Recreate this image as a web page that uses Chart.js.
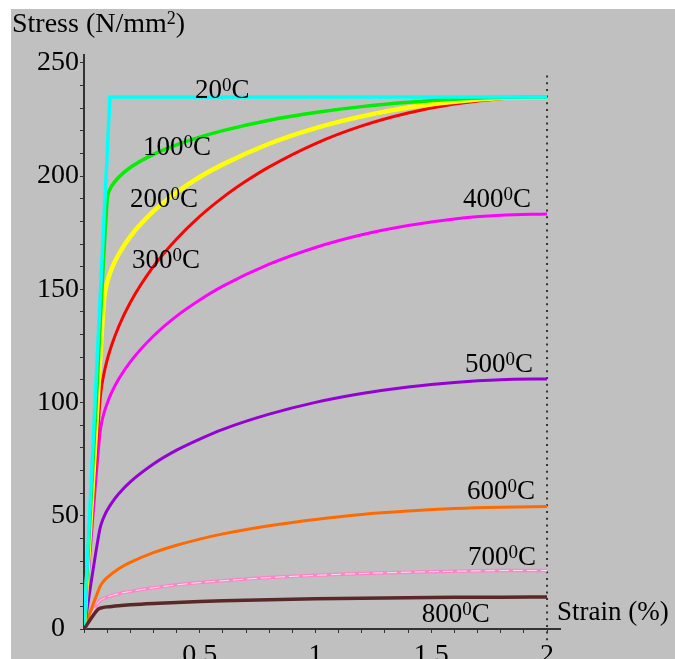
<!DOCTYPE html>
<html>
<head>
<meta charset="utf-8">
<script src="https://cdn.jsdelivr.net/npm/chart.js@4.4.0/dist/chart.umd.min.js"></script>
<style>
  html, body { margin: 0; padding: 0; overflow: hidden; background: #fff; width: 675px; height: 659px; }
  #wrap { position: absolute; left: 0; top: 0; width: 675px; height: 700px; }
</style>
</head>
<body>
<div id="wrap"><canvas id="c" width="675" height="700"></canvas></div>
<script>
// Steel stress-strain curves at elevated temperature (strain in %, stress in N/mm2)
const temps = ['20', '100', '200', '300', '400', '500', '600', '700', '800'];

const strain20 = [0, 0.112, 2.0];
const stress20 = [0, 235, 235];

const strain100 = [0, 0.05, 0.1003, 0.102, 0.105, 0.11, 0.12, 0.15, 0.2, 0.3, 0.4, 0.5, 0.6, 0.8, 1.0, 1.2, 1.4, 1.6, 1.8, 2.0];
const stress100 = [0, 94.5, 189.6, 191.1, 192.3, 193.7, 195.7, 199.5, 203.8, 209.6, 213.8, 217.2, 220.1, 224.7, 228.1, 230.7, 232.6, 234.0, 234.7, 235];

const strain200 = [0, 0.043, 0.0857, 0.09, 0.095, 0.1, 0.12, 0.15, 0.2, 0.3, 0.4, 0.5, 0.6, 0.8, 1.0, 1.2, 1.4, 1.6, 1.8, 2.0];
const stress200 = [0, 72.2, 144.1, 148.1, 150.9, 153.1, 159.2, 165.5, 173.3, 184.5, 192.8, 199.6, 205.2, 214.3, 221.2, 226.4, 230.3, 232.9, 234.5, 235];

const strain300 = [0, 0.0671, 0.07, 0.075, 0.08, 0.09, 0.1, 0.12, 0.15, 0.2, 0.3, 0.4, 0.5, 0.6, 0.7, 0.8, 1.0, 1.2, 1.4, 1.6, 1.8, 2.0];
const stress300 = [0, 98.7, 102.1, 106.3, 109.5, 114.6, 118.8, 125.5, 133.6, 144.2, 160.1, 172.2, 182.2, 190.6, 197.8, 204.1, 214.4, 222.2, 227.9, 231.9, 234.2, 235];

const strain400 = [0, 0.0671, 0.07, 0.075, 0.08, 0.09, 0.1, 0.12, 0.15, 0.2, 0.3, 0.4, 0.5, 0.6, 0.8, 1.0, 1.2, 1.4, 1.6, 1.8, 2.0];
const stress400 = [0, 84.6, 87.3, 90.5, 92.9, 96.6, 99.6, 104.6, 110.4, 118.0, 129.4, 138.2, 145.3, 151.4, 161.1, 168.5, 174.1, 178.2, 181.1, 182.7, 183.3];

const strain500 = [0, 0.065, 0.07, 0.08, 0.09, 0.1, 0.12, 0.15, 0.2, 0.3, 0.4, 0.5, 0.6, 0.8, 1.0, 1.2, 1.4, 1.6, 1.8, 2.0];
const stress500 = [0, 42.3, 44.8, 48.0, 50.4, 52.4, 55.7, 59.7, 65.0, 72.9, 79.0, 83.9, 88.2, 94.9, 100.1, 104.0, 106.9, 108.9, 110.1, 110.45];

const strain600 = [0, 0.0646, 0.07, 0.08, 0.09, 0.1, 0.15, 0.2, 0.3, 0.4, 0.5, 0.6, 0.8, 1.0, 1.2, 1.4, 1.6, 1.8, 2.0];
const stress600 = [0, 17.6, 18.9, 20.5, 21.7, 22.7, 26.6, 29.4, 33.7, 37.0, 39.7, 42.0, 45.6, 48.4, 50.6, 52.1, 53.2, 53.8, 54.05];

const strain700 = [0, 0.0622, 0.07, 0.08, 0.1, 0.15, 0.2, 0.3, 0.4, 0.5, 0.6, 0.8, 1.0, 1.2, 1.4, 1.6, 1.8, 2.0];
const stress700 = [0, 11.75, 12.6, 13.2, 14.1, 15.6, 16.6, 18.2, 19.5, 20.5, 21.3, 22.7, 23.7, 24.5, 25.1, 25.5, 25.8, 25.85];

const strain800 = [0, 0.0622, 0.07, 0.08, 0.1, 0.15, 0.2, 0.3, 0.4, 0.5, 0.6, 0.8, 1.0, 1.2, 1.4, 1.6, 1.8, 2.0];
const stress800 = [0, 8.81, 9.2, 9.44, 9.77, 10.31, 10.71, 11.3, 11.75, 12.12, 12.44, 12.94, 13.33, 13.62, 13.83, 13.98, 14.07, 14.1];

// Curve label anchors (left edge strain, baseline stress)
const labelStrain = [0.479, 0.255, 0.199, 0.207, 1.637, 1.646, 1.654, 1.659, 1.459];
const labelStress = [234.3, 209.4, 186.5, 159.5, 186.5, 113.6, 57.4, 28.3, 3.2];

const xTickLabels = [0.5, 1, 1.5, 2];
const yTickLabels = [0, 50, 100, 150, 200, 250];

const SERIF = '"Liberation Serif", "Times New Roman", serif';

function pts(xs, ys) { return xs.map((x, i) => ({ x: x, y: ys[i] })); }

function curve(data, color, width, order) {
  return {
    data: data, borderColor: color, backgroundColor: color, borderWidth: width,
    pointRadius: 0, fill: false, cubicInterpolationMode: 'monotone', order: order
  };
}

const datasets = [
  Object.assign(curve(pts(strain20, stress20), '#00ffff', 3.5, 1), { cubicInterpolationMode: 'default', tension: 0 }),
  curve(pts(strain100, stress100), '#00ee00', 3.5, 2),
  curve(pts(strain200, stress200), '#ffff00', 4.5, 3),
  curve(pts(strain300, stress300), '#ff0000', 3, 4),
  curve(pts(strain400, stress400), '#ff00ff', 3, 5),
  curve(pts(strain500, stress500), '#9400d3', 3, 6),
  curve(pts(strain600, stress600), '#ff6a00', 3, 7),
  curve(pts(strain700, stress700), '#ff85c8', 3.5, 9),
  Object.assign(curve(pts(strain700, stress700), 'rgba(255,230,242,0.9)', 1, 8), { borderDash: [10, 4] }),
  curve(pts(strain800, stress800), '#5a2828', 3.5, 0),
  // dotted marker line at 2 % strain
  {
    data: [{ x: 2, y: -5 }, { x: 2, y: 245 }], borderColor: '#333', borderWidth: 2,
    borderDash: [2, 4.7], pointRadius: 0, fill: false, clip: false, tension: 0, order: 10
  }
];

const backdrop = {
  id: 'backdrop',
  beforeDraw(chart) {
    const ctx = chart.ctx;
    ctx.save();
    ctx.fillStyle = '#ffffff';
    ctx.fillRect(0, 0, chart.width, chart.height);
    ctx.fillStyle = '#c0c0c0';
    ctx.fillRect(11, 9, chart.width - 11, chart.height - 9);
    ctx.restore();
  }
};

function drawTemp(ctx, x, y, num) {
  ctx.font = '27px ' + SERIF;
  ctx.fillText(num, x, y);
  const w = ctx.measureText(num).width;
  ctx.font = '19px ' + SERIF;
  ctx.fillText('0', x + w, y - 7);
  const w2 = ctx.measureText('0').width;
  ctx.font = '27px ' + SERIF;
  ctx.fillText('C', x + w + w2, y);
}

const annotations = {
  id: 'annotations',
  afterDatasetsDraw(chart) {
    const ctx = chart.ctx;
    const xs = chart.scales.x, ys = chart.scales.y;
    ctx.save();
    ctx.fillStyle = '#000';
    ctx.textBaseline = 'alphabetic';
    ctx.textAlign = 'left';
    temps.forEach((t, i) => {
      drawTemp(ctx, xs.getPixelForValue(labelStrain[i]), ys.getPixelForValue(labelStress[i]), t);
    });
    // axis titles
    ctx.font = '28px ' + SERIF;
    const s1 = 'Stress (N/mm';
    ctx.fillText(s1, 12, 32);
    let w = ctx.measureText(s1).width;
    ctx.font = '18px ' + SERIF;
    ctx.fillText('2', 12 + w, 24);
    w += ctx.measureText('2').width;
    ctx.font = '28px ' + SERIF;
    ctx.fillText(')', 12 + w, 32);
    ctx.font = '27px ' + SERIF;
    ctx.fillText('Strain (%)', 557, 620);
    ctx.restore();
  }
};

function isLabel(v, list) { return list.some(l => Math.abs(l - v) < 1e-6); }

new Chart(document.getElementById('c'), {
  type: 'line',
  data: { datasets: datasets },
  plugins: [backdrop, annotations],
  options: {
    responsive: false,
    animation: false,
    events: [],
    layout: { padding: { top: 55, right: 115, left: 0, bottom: 0 } },
    plugins: { legend: { display: false }, tooltip: { enabled: false } },
    scales: {
      x: {
        type: 'linear', min: 0, max: 2.056,
        afterFit(s) { s.height = 71; },
        grid: { drawOnChartArea: false, drawTicks: true, tickLength: 4, tickColor: '#333', tickWidth: 1 },
        border: { display: true, color: '#333', width: 2 },
        ticks: {
          stepSize: 0.1, autoSkip: false, includeBounds: false, maxRotation: 0, padding: 6,
          color: '#000', font: { family: SERIF, size: 28 },
          callback: v => isLabel(v, xTickLabels) ? String(v) : ''
        }
      },
      y: {
        type: 'linear', min: 0, max: 253.5,
        afterFit(s) { s.width = 84; },
        grid: { drawOnChartArea: false, drawTicks: true, tickLength: 4, tickColor: '#333', tickWidth: 1 },
        border: { display: true, color: '#333', width: 2 },
        ticks: {
          stepSize: 10, autoSkip: false, includeBounds: false, padding: 1,
          color: '#000', font: { family: SERIF, size: 28 },
          // the zero label sits a little further left, clear of the strain axis
          callback: v => Math.abs(v) < 1e-6 ? '0  ' : (isLabel(v, yTickLabels) ? String(v) : '')
        }
      }
    }
  }
});
</script>
</body>
</html>
